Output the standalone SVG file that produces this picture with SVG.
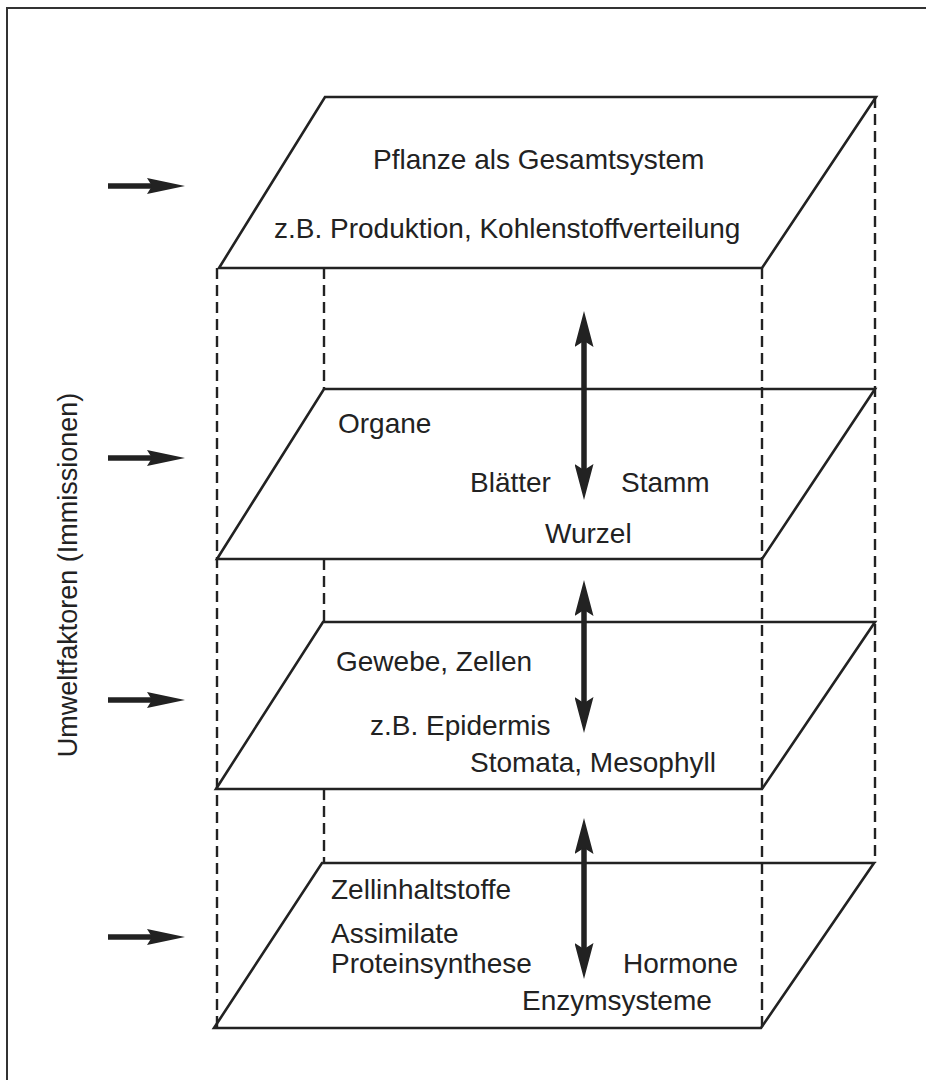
<svg xmlns="http://www.w3.org/2000/svg" width="926" height="1080" viewBox="0 0 926 1080">
<style>
.frame{fill:none;stroke:#333;stroke-width:2}
.plane{fill:none;stroke:#222;stroke-width:2.6;stroke-linejoin:miter}
.dash{fill:none;stroke:#222;stroke-width:2.4;stroke-dasharray:11 6}
.arr{stroke:#222;stroke-width:5.5;fill:none}
.lbl{font-family:"Liberation Sans",Arial,Helvetica,sans-serif;font-size:28px;fill:#222}
.side{font-family:"Liberation Sans",Arial,Helvetica,sans-serif;font-size:27px;fill:#222}
</style>
<defs>
<marker id="vh" markerUnits="userSpaceOnUse" markerWidth="36" markerHeight="19" refX="15" refY="9.5" orient="auto-start-reverse" viewBox="0 0 36 19">
<path d="M0,0 L36,9.5 L0,19 L6,9.5 z" fill="#222"/>
</marker>
<marker id="hh" markerUnits="userSpaceOnUse" markerWidth="38" markerHeight="16" refX="18" refY="8" orient="auto" viewBox="0 0 38 16">
<path d="M0,0 L38,8 L0,16 L5,8 z" fill="#222"/>
</marker>
</defs>
<rect width="926" height="1080" fill="#fff"/>
<path class="frame" d="M7,1080 V8 H926"/>

<g id="edges">
<line class="dash" x1="217" y1="268" x2="217" y2="1028"/>
<line class="dash" x1="762" y1="268" x2="762" y2="1028"/>
<line class="dash" x1="875" y1="97" x2="875" y2="863"/>
<line class="dash" x1="324" y1="268" x2="324" y2="389"/>
<line class="dash" x1="324" y1="559" x2="324" y2="622"/>
<line class="dash" x1="324" y1="789" x2="324" y2="863"/>
</g>

<g id="plane1">
<polygon class="plane" points="325,97 876,97 762,268 219,268"/>
<text class="lbl" x="373" y="169">Pflanze als Gesamtsystem</text>
<text class="lbl" x="274" y="238">z.B. Produktion, Kohlenstoffverteilung</text>
</g>

<g id="plane2">
<polygon class="plane" points="324,389 875,389 762,559 217,559"/>
<text class="lbl" x="338" y="433">Organe</text>
<text class="lbl" x="470" y="492">Blätter</text>
<text class="lbl" x="621" y="492">Stamm</text>
<text class="lbl" x="545" y="543">Wurzel</text>
</g>

<g id="plane3">
<polygon class="plane" points="323,622 875,622 762,789 216,789"/>
<text class="lbl" x="336" y="671">Gewebe, Zellen</text>
<text class="lbl" x="370" y="735">z.B. Epidermis</text>
<text class="lbl" x="470" y="772">Stomata, Mesophyll</text>
</g>

<g id="plane4">
<polygon class="plane" points="322,863 874,863 761,1028 214,1028"/>
<text class="lbl" x="331" y="899">Zellinhaltstoffe</text>
<text class="lbl" x="331" y="943">Assimilate</text>
<text class="lbl" x="331" y="973">Proteinsynthese</text>
<text class="lbl" x="623" y="973">Hormone</text>
<text class="lbl" x="522" y="1010">Enzymsysteme</text>
</g>

<g id="label">
<text class="side" transform="translate(77,575) rotate(-90)" text-anchor="middle">Umweltfaktoren (Immissionen)</text>
</g>

<g id="connectors">
<line class="arr" x1="584" y1="332" x2="584" y2="479" marker-start="url(#vh)" marker-end="url(#vh)"/>
<line class="arr" x1="584" y1="601" x2="584" y2="712" marker-start="url(#vh)" marker-end="url(#vh)"/>
<line class="arr" x1="584" y1="839" x2="584" y2="958" marker-start="url(#vh)" marker-end="url(#vh)"/>
<line class="arr" x1="108" y1="186" x2="165" y2="186" marker-end="url(#hh)"/>
<line class="arr" x1="108" y1="458" x2="165" y2="458" marker-end="url(#hh)"/>
<line class="arr" x1="108" y1="700" x2="165" y2="700" marker-end="url(#hh)"/>
<line class="arr" x1="108" y1="937" x2="165" y2="937" marker-end="url(#hh)"/>
</g>
</svg>
